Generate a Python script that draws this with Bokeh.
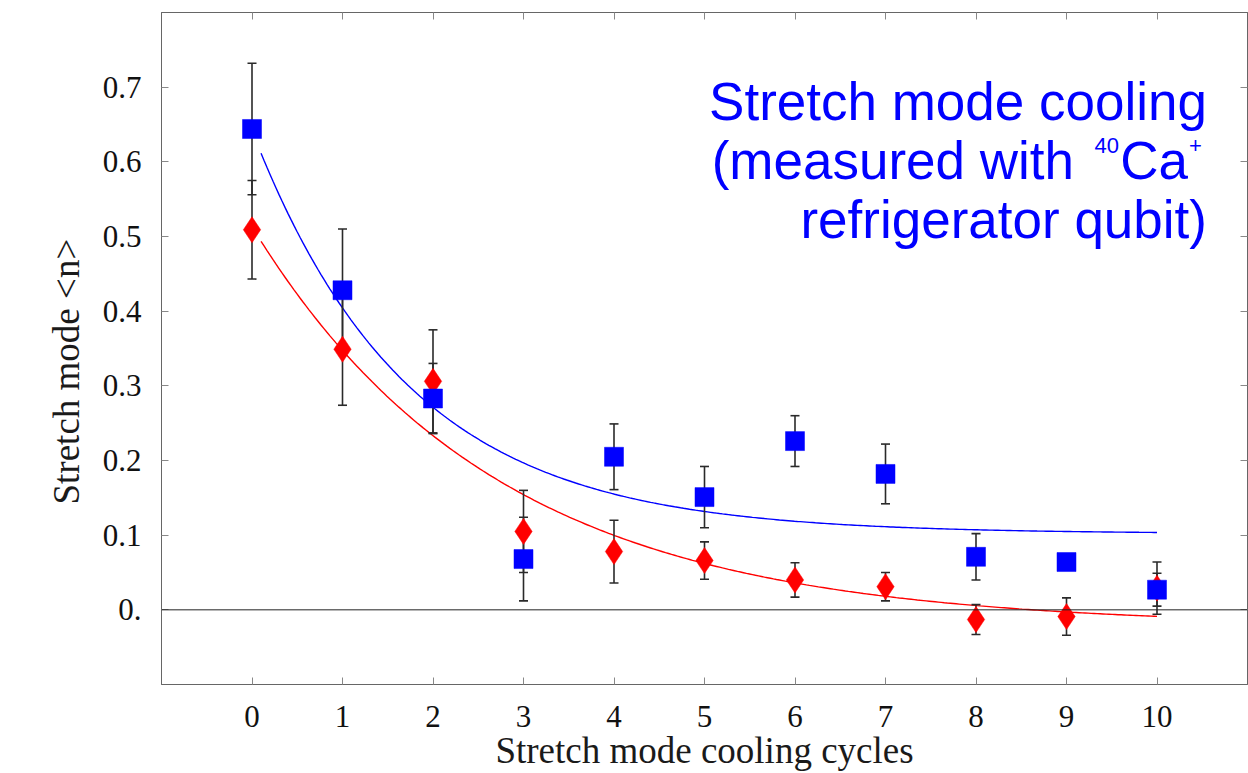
import numpy as np
from bokeh.plotting import figure
from bokeh.models import (Range1d, LinearAxis, FixedTicker, Label, Span, ColumnDataSource,
                          CustomLabelingPolicy)
from bokeh.embed import file_html
from bokeh.resources import INLINE

# Stretch-mode mean phonon number after each cooling cycle
cycles = [0, 1, 2, 3, 4, 5, 6, 7, 8, 9, 10]

# series drawn as blue squares
square_n = [0.644, 0.428, 0.283, 0.068, 0.205, 0.151, 0.226, 0.182, 0.071, 0.064, 0.027]
square_err = [0.088, 0.082, 0.047, 0.056, 0.044, 0.041, 0.034, 0.040, 0.031, 0.006, 0.022]

# series drawn as red diamonds
diamond_n = [0.509, 0.349, 0.306, 0.105, 0.078, 0.066, 0.040, 0.031, -0.013, -0.009, 0.029]
diamond_err = [0.066, 0.075, 0.069, 0.055, 0.042, 0.025, 0.023, 0.019, 0.020, 0.025, 0.035]

# exponential fits: offset + amplitude * exp(-rate * cycle)
square_fit = {"offset": 0.102, "amplitude": 0.54, "rate": 0.58}
diamond_fit = {"offset": -0.022, "amplitude": 0.535, "rate": 0.37}
fit_span = (0.1, 10.0)

x_ticks = cycles
y_ticks = [0.0, 0.1, 0.2, 0.3, 0.4, 0.5, 0.6, 0.7]
y_tick_labels = {0: "0."}

x_title = "Stretch mode cooling cycles"
y_title = "Stretch mode <n>"

SERIF = "Liberation Serif"
SANS = "Liberation Sans"
BLUE = "#0000ff"
RED = "#ff0000"
BAR = "#2a2a2a"

p = figure(
    width=1248, height=773,
    x_range=Range1d(-1, 11), y_range=Range1d(-0.1, 0.8),
    output_backend="svg", toolbar_location=None,
    min_border_left=161, min_border_right=1, min_border_top=12, min_border_bottom=89,
    background_fill_color="white", border_fill_color="white",
    outline_line_color="#666666", outline_line_width=1,
)
p.grid.visible = False

p.add_layout(LinearAxis(), "right")
p.add_layout(LinearAxis(), "above")

for ax in p.xaxis:
    ax.ticker = FixedTicker(ticks=x_ticks)
for ax in p.yaxis:
    ax.ticker = FixedTicker(ticks=y_ticks)

for ax in p.axis:
    ax.axis_line_color = "#666666"
    ax.axis_line_width = 1
    ax.major_tick_in = 7
    ax.major_tick_out = 0
    ax.major_tick_line_color = "#888888"
    ax.major_tick_line_width = 1
    ax.minor_tick_line_color = None

# labelled axes
bottom = p.below[0]
bottom.major_label_text_font = SERIF
bottom.major_label_text_font_size = "31px"
bottom.major_label_text_color = "#111111"
bottom.major_label_standoff = 21
bottom.axis_label = x_title
bottom.axis_label_text_font = SERIF
bottom.axis_label_text_font_size = "37px"
bottom.axis_label_text_font_style = "normal"
bottom.axis_label_text_color = "#1a1a1a"
bottom.axis_label_standoff = 0

left = p.left[0]
left.major_label_text_font = SERIF
left.major_label_text_font_size = "31px"
left.major_label_text_color = "#111111"
left.major_label_standoff = 20
left.major_label_overrides = y_tick_labels
# trailing no-break spaces nudge the centred title toward the lower end
left.axis_label = y_title + "\u00a0" * 5
left.axis_label_text_font = SERIF
left.axis_label_text_font_size = "37px"
left.axis_label_text_font_style = "normal"
left.axis_label_text_color = "#1a1a1a"
left.axis_label_standoff = 13

# frame-only axes on top and right: ticks, no labels
for ax in (p.right[0], p.above[0]):
    ax.major_label_policy = CustomLabelingPolicy(code="return new Set()")
    ax.major_label_text_font_size = "0px"
    ax.major_label_standoff = 0
    ax.axis_label = None

# zero line
p.add_layout(Span(location=0, dimension="width", line_color="#222222", line_width=1))

# fit curves
def fit_curve(params):
    xs = np.linspace(fit_span[0], fit_span[1], 300)
    return xs, params["offset"] + params["amplitude"] * np.exp(-params["rate"] * xs)

xs, ys = fit_curve(square_fit)
p.line(xs, ys, line_color=BLUE, line_width=1.4)
xs, ys = fit_curve(diamond_fit)
p.line(xs, ys, line_color=RED, line_width=1.4)

def bars(values, errs):
    return ColumnDataSource(dict(
        x=cycles,
        lo=[v - e for v, e in zip(values, errs)],
        hi=[v + e for v, e in zip(values, errs)],
    ))

for values, errs in ((diamond_n, diamond_err), (square_n, square_err)):
    src = bars(values, errs)
    p.segment(x0="x", y0="lo", x1="x", y1="hi", source=src, line_color=BAR, line_width=1.6)
    p.scatter(x="x", y="lo", source=src, marker="dash", size=9, line_color=BAR, line_width=1.6)
    p.scatter(x="x", y="hi", source=src, marker="dash", size=9, line_color=BAR, line_width=1.6)

p.scatter(cycles, diamond_n, marker="diamond", size=26, fill_color=RED, line_color=RED, line_width=0.5)
p.scatter(cycles, square_n, marker="square", size=19, fill_color=BLUE, line_color=BLUE, line_width=0.5)

# annotation text in the upper right
def note(x, y, text, size, align="right"):
    p.add_layout(Label(x=x, y=y, text=text, text_align=align, text_baseline="alphabetic",
                       text_font=SANS, text_font_size=size, text_color=BLUE))

note(10.552, 0.6812, "Stretch mode cooling", "53px")
note(9.083, 0.6021, "(measured with", "53px")
note(9.580, 0.6222, "40", "22px")
note(10.343, 0.6021, "Ca", "53px")
note(10.354, 0.6222, "+", "22px", align="left")
note(10.552, 0.5230, "refrigerator qubit)", "53px")

open("out.html", "w").write(file_html(p, INLINE))
